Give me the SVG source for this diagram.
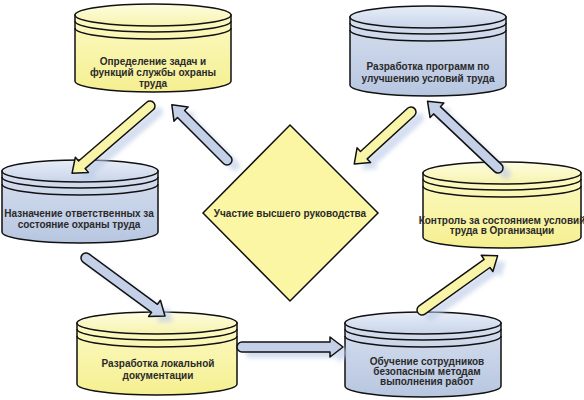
<svg xmlns="http://www.w3.org/2000/svg" xmlns:xlink="http://www.w3.org/1999/xlink" width="584" height="400" viewBox="0 0 584 400">
<defs>
<style>
.out{stroke:#111;stroke-width:1.5;}
.ring{fill:none;stroke:#111;stroke-width:1.5;}
.yb{fill:url(#yBody);} .yt{fill:url(#yTop);}
.bb{fill:url(#bBody);} .bt{fill:url(#bTop);}
.lbl{font-family:"Liberation Sans",Arial,sans-serif;font-size:10px;font-weight:bold;fill:#2a2a2a;text-anchor:middle;}
.arrow{stroke:#111;stroke-width:1.5;stroke-linejoin:round;}
.ya{fill:#F8F5A8;} .ba{fill:#C3D0E8;}
.shadow{fill:#B9C9E6;opacity:0.6;filter:url(#blur);}
</style>
<linearGradient id="yBody" x1="0" y1="0" x2="0" y2="1"><stop offset="0" stop-color="#FCFAC4"/><stop offset="1" stop-color="#F5EF90"/></linearGradient>
<linearGradient id="yTop" x1="0" y1="0" x2="0" y2="1"><stop offset="0" stop-color="#FEFDE0"/><stop offset="1" stop-color="#F7F3AE"/></linearGradient>
<linearGradient id="bBody" x1="0" y1="0" x2="0" y2="1"><stop offset="0" stop-color="#D6DFEF"/><stop offset="1" stop-color="#B7C6E0"/></linearGradient>
<linearGradient id="bTop" x1="0" y1="0" x2="0" y2="1"><stop offset="0" stop-color="#E8EEF8"/><stop offset="1" stop-color="#C8D4EA"/></linearGradient>
<filter id="blur" x="-20%" y="-20%" width="140%" height="140%"><feGaussianBlur stdDeviation="2"/></filter>
<path id="p1" transform="translate(150,106) rotate(139.2)" d="M0,-5 H90 V-10 L103,0 L90,10 V5 H0 A5,5 0 0 1 0,-5 Z"/>
<path id="p2" transform="translate(227,160) rotate(225)" d="M0,-5 H65 V-10 L78,0 L65,10 V5 H0 A5,5 0 0 1 0,-5 Z"/>
<path id="p3" transform="translate(411,112) rotate(137.5)" d="M0,-5 H64 V-10 L77,0 L64,10 V5 H0 A5,5 0 0 1 0,-5 Z"/>
<path id="p4" transform="translate(498,168) rotate(223.4)" d="M0,-5 H84 V-10 L97,0 L84,10 V5 H0 A5,5 0 0 1 0,-5 Z"/>
<path id="p5" transform="translate(86,258) rotate(36.3)" d="M0,-5 H85 V-10 L98,0 L85,10 V5 H0 A5,5 0 0 1 0,-5 Z"/>
<path id="p6" transform="translate(242,347)" d="M0,-5 H88 V-10 L101,0 L88,10 V5 H0 A5,5 0 0 1 0,-5 Z"/>
<path id="p7" transform="translate(422,310) rotate(-35.6)" d="M0,-5 H80 V-10 L93,0 L80,10 V5 H0 A5,5 0 0 1 0,-5 Z"/>
</defs>
<rect width="584" height="400" fill="#ffffff"/>

<g id="center">
<polygon class="out" points="290,125 378,213 290,301 203,213" fill="#FAF6A4"/>
<text class="lbl" x="290" y="216.5">Участие высшего руководства</text>
</g>

<g id="n1" transform="translate(153,15)">
<path class="yb out" d="M-78,0 V66 A78,11 0 0 0 78,66 V0 Z"/>
<ellipse class="yt out" cx="0" cy="0" rx="78" ry="11"/>
<path class="ring" d="M-78,6 A78,11 0 0 0 78,6 M-78,13 A78,11 0 0 0 78,13"/>
<text class="lbl" x="0" y="49.5">Определение задач и</text>
<text class="lbl" x="0" y="60.5">функций службы охраны</text>
<text class="lbl" x="0" y="71.5">труда</text>
</g>

<g id="n2" transform="translate(428,17)">
<path class="bb out" d="M-78,0 V68 A78,11 0 0 0 78,68 V0 Z"/>
<ellipse class="bt out" cx="0" cy="0" rx="78" ry="11"/>
<path class="ring" d="M-78,6 A78,11 0 0 0 78,6 M-78,13 A78,11 0 0 0 78,13"/>
<text class="lbl" x="0" y="53">Разработка программ по</text>
<text class="lbl" x="0" y="64.5">улучшению условий труда</text>
</g>

<g id="n3" transform="translate(80,171)">
<path class="bb out" d="M-78,0 V61 A78,11 0 0 0 78,61 V0 Z"/>
<ellipse class="bt out" cx="0" cy="0" rx="78" ry="11"/>
<path class="ring" d="M-78,6 A78,11 0 0 0 78,6 M-78,13 A78,11 0 0 0 78,13"/>
<text class="lbl" x="-1" y="45.5">Назначение ответственных за</text>
<text class="lbl" x="-1" y="56.5">состояние охраны труда</text>
</g>

<g id="n4" transform="translate(502,173)">
<path class="yb out" d="M-79,0 V64 A79,11 0 0 0 79,64 V0 Z"/>
<ellipse class="yt out" cx="0" cy="0" rx="79" ry="11"/>
<path class="ring" d="M-79,6 A79,11 0 0 0 79,6 M-79,13 A79,11 0 0 0 79,13"/>
<text class="lbl" x="0" y="50.5">Контроль за состоянием условий</text>
<text class="lbl" x="0" y="61">труда в Организации</text>
</g>

<g id="n5" transform="translate(157,323)">
<path class="yb out" d="M-80,0 V61 A80,11 0 0 0 80,61 V0 Z"/>
<ellipse class="yt out" cx="0" cy="0" rx="80" ry="11"/>
<path class="ring" d="M-80,6 A80,11 0 0 0 80,6 M-80,13 A80,11 0 0 0 80,13"/>
<text class="lbl" x="1" y="43.5">Разработка локальной</text>
<text class="lbl" x="1" y="55.5">документации</text>
</g>

<g id="n6" transform="translate(423,323)">
<path class="bb out" d="M-78,0 V63 A78,11 0 0 0 78,63 V0 Z"/>
<ellipse class="bt out" cx="0" cy="0" rx="78" ry="11"/>
<path class="ring" d="M-78,6 A78,11 0 0 0 78,6 M-78,13 A78,11 0 0 0 78,13"/>
<text class="lbl" x="4" y="42">Обучение сотрудников</text>
<text class="lbl" x="4" y="52">безопасным методам</text>
<text class="lbl" x="4" y="62">выполнения работ</text>
</g>

<g id="connectors">
<use xlink:href="#p1" class="shadow" transform="translate(8,6)"/>
<use xlink:href="#p2" class="shadow" transform="translate(8,6)"/>
<use xlink:href="#p3" class="shadow" transform="translate(8,6)"/>
<use xlink:href="#p4" class="shadow" transform="translate(8,6)"/>
<use xlink:href="#p5" class="shadow" transform="translate(8,6)"/>
<use xlink:href="#p6" class="shadow" transform="translate(8,6)"/>
<use xlink:href="#p7" class="shadow" transform="translate(8,6)"/>
<use xlink:href="#p1" class="arrow ya"/>
<use xlink:href="#p2" class="arrow ba"/>
<use xlink:href="#p3" class="arrow ya"/>
<use xlink:href="#p4" class="arrow ba"/>
<use xlink:href="#p5" class="arrow ba"/>
<use xlink:href="#p6" class="arrow ba"/>
<use xlink:href="#p7" class="arrow ya"/>
</g>
</svg>
